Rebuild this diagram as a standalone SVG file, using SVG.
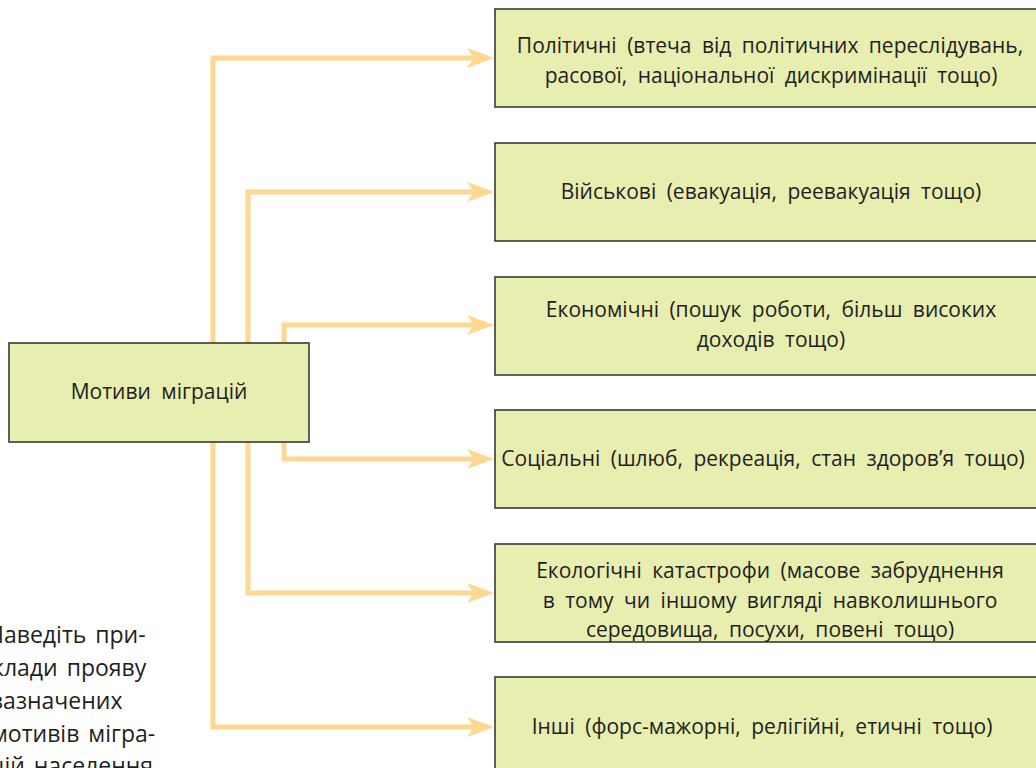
<svg xmlns="http://www.w3.org/2000/svg" width="1036" height="768" viewBox="0 0 1036 768">
<style>
.box{fill:#e8edb0;stroke:#3a3a3a;stroke-width:1.6}
.t{font-family:"Open Sans","Noto Sans",sans-serif;font-size:21px;fill:#231f20;text-anchor:middle;word-spacing:5px}
.c{fill:none;stroke:#fed790;stroke-width:5}
.q{font-family:"Open Sans","Noto Sans",sans-serif;font-size:23px;fill:#231f20;word-spacing:3px}
</style>
<defs>
<marker id="ah" viewBox="0 0 27 20" markerWidth="27" markerHeight="20" markerUnits="userSpaceOnUse" refX="7" refY="10" orient="auto">
<path d="M0,0 L27,10 L0,20 L7,10 Z" fill="#fed790"/>
</marker>
</defs>
<g id="connectors">
<path class="c" d="M213,343 V58 H474" marker-end="url(#ah)"/>
<path class="c" d="M248,343 V192 H474" marker-end="url(#ah)"/>
<path class="c" d="M284,343 V325 H474" marker-end="url(#ah)"/>
<path class="c" d="M284,442 V459 H474" marker-end="url(#ah)"/>
<path class="c" d="M248,442 V593 H474" marker-end="url(#ah)"/>
<path class="c" d="M213,442 V727 H474" marker-end="url(#ah)"/>
</g>
<g id="center">
<rect class="box" x="9" y="343" width="300" height="99"/>
<text class="t" x="159" y="399">Мотиви міграцій</text>
</g>
<g id="n1">
<rect class="box" x="495" y="9" width="560" height="98"/>
<text class="t" x="770" y="53">Політичні (втеча від політичних переслідувань,</text>
<text class="t" x="771" y="83">расової, національної дискримінації тощо)</text>
</g>
<g id="n2">
<rect class="box" x="495" y="143" width="560" height="98"/>
<text class="t" x="771" y="199">Військові (евакуація, реевакуація тощо)</text>
</g>
<g id="n3">
<rect class="box" x="495" y="277" width="560" height="98"/>
<text class="t" x="771" y="317">Економічні (пошук роботи, більш високих</text>
<text class="t" x="771" y="347">доходів тощо)</text>
</g>
<g id="n4">
<rect class="box" x="495" y="410" width="560" height="98"/>
<text class="t" x="763" y="466">Соціальні (шлюб, рекреація, стан здоров’я тощо)</text>
</g>
<g id="n5">
<rect class="box" x="495" y="544" width="560" height="98"/>
<text class="t" x="770" y="578">Екологічні катастрофи (масове забруднення</text>
<text class="t" x="770" y="608">в тому чи іншому вигляді навколишнього</text>
<text class="t" x="770" y="637">середовища, посухи, повені тощо)</text>
</g>
<g id="n6">
<rect class="box" x="495" y="677" width="560" height="98"/>
<text class="t" x="762" y="734">Інші (форс-мажорні, релігійні, етичні тощо)</text>
</g>
<g id="task">
<text class="q" x="-13" y="643">Наведіть при-</text>
<text class="q" x="-8" y="676">клади прояву</text>
<text class="q" x="-8" y="709">зазначених</text>
<text class="q" x="-9" y="742">мотивів мігра-</text>
<text class="q" x="-10" y="774">цій населення</text>
</g>
</svg>
